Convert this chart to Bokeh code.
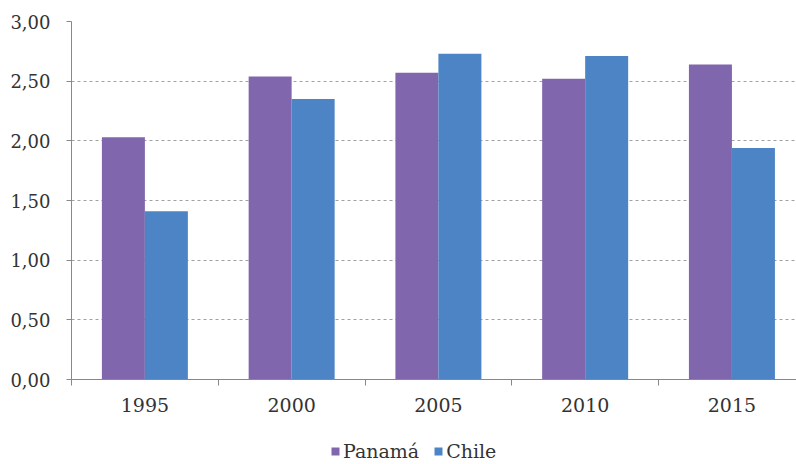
import numpy as np
from bokeh.plotting import figure
from bokeh.layouts import column
from bokeh.models import ColumnDataSource, FixedTicker, Legend, LegendItem, Range1d
from bokeh.embed import file_html
from bokeh.resources import INLINE

years = ["1995", "2000", "2005", "2010", "2015"]
panama = [2.03, 2.54, 2.57, 2.52, 2.64]
chile = [1.41, 2.35, 2.73, 2.71, 1.94]
y_ticks = [0.0, 0.5, 1.0, 1.5, 2.0, 2.5, 3.0]
y_labels = ["0,00", "0,50", "1,00", "1,50", "2,00", "2,50", "3,00"]

FONT = "DejaVu Serif"
PURPLE = "#8066AC"
BLUE = "#4C84C6"
TXT = "#333333"

centers = np.arange(len(years)) + 0.5
bw = 0.293
src = ColumnDataSource(dict(
    xp=centers - bw / 2, xc=centers + bw / 2, panama=panama, chile=chile))

p = figure(width=796, height=424, output_backend="svg", toolbar_location=None,
           x_range=Range1d(0, len(years) - 0.06), y_range=Range1d(0, 3.0),
           min_border_left=71, min_border_right=0, min_border_top=21,
           min_border_bottom=45)
p.outline_line_color = None
p.background_fill_color = "white"

r1 = p.vbar(x="xp", top="panama", width=bw, source=src, fill_color=PURPLE, line_color=None)
r2 = p.vbar(x="xc", top="chile", width=bw, source=src, fill_color=BLUE, line_color=None)

# y axis
p.yaxis.ticker = FixedTicker(ticks=y_ticks)
p.yaxis.major_label_overrides = {t: l for t, l in zip(y_ticks, y_labels)}
p.yaxis.major_label_text_font = FONT
p.yaxis.major_label_text_font_size = "18px"
p.yaxis.major_label_text_color = TXT
p.yaxis.axis_line_color = "#888888"
p.yaxis.major_tick_line_color = "#888888"
p.yaxis.major_tick_out = 5
p.yaxis.major_tick_in = 0
p.yaxis.minor_tick_line_color = None
p.yaxis.major_label_standoff = 16

# x axis
p.xaxis.ticker = FixedTicker(ticks=list(centers),
                             minor_ticks=list(range(len(years) + 1)))
p.xaxis.major_label_overrides = {float(c): y for c, y in zip(centers, years)}
p.xaxis.major_label_text_font = FONT
p.xaxis.major_label_text_font_size = "19px"
p.xaxis.major_label_text_color = TXT
p.xaxis.axis_line_color = "#888888"
p.xaxis.major_tick_line_color = None
p.xaxis.minor_tick_line_color = "#888888"
p.xaxis.minor_tick_out = 6
p.xaxis.minor_tick_in = 0
p.xaxis.major_label_standoff = 12

# grid
p.xgrid.grid_line_color = None
p.ygrid.ticker = FixedTicker(ticks=y_ticks[1:])
p.ygrid.grid_line_color = "#a0a0a0"
p.ygrid.grid_line_dash = "3 3"
p.ygrid.grid_line_width = 1

# legend in a strip below the chart
lg = figure(width=796, height=40, output_backend="svg", toolbar_location=None,
            x_range=Range1d(0, 1), y_range=Range1d(0, 1),
            min_border_left=0, min_border_right=0, min_border_top=0,
            min_border_bottom=0)
lg.axis.visible = False
lg.grid.visible = False
lg.outline_line_color = None
# zero-height placeholder bars, only used to draw the legend swatches
placeholder = ColumnDataSource(dict(x=[0.5], top=[0.0]))
l1 = lg.vbar(x="x", top="top", bottom="top", width=0.001, source=placeholder,
             fill_color=PURPLE, line_color=None)
l2 = lg.vbar(x="x", top="top", bottom="top", width=0.001, source=placeholder,
             fill_color=BLUE, line_color=None)

legend = Legend(items=[LegendItem(label="Panamá", renderers=[l1]),
                       LegendItem(label="Chile", renderers=[l2])],
                orientation="horizontal", location=(259, 2),
                label_text_font=FONT, label_text_font_size="19px",
                label_text_color=TXT,
                glyph_width=10, glyph_height=10, label_standoff=3,
                spacing=14, border_line_color=None, padding=0, margin=0,
                background_fill_alpha=0)
lg.add_layout(legend, "center")

open("out.html", "w").write(file_html(column(p, lg, spacing=0), INLINE))
